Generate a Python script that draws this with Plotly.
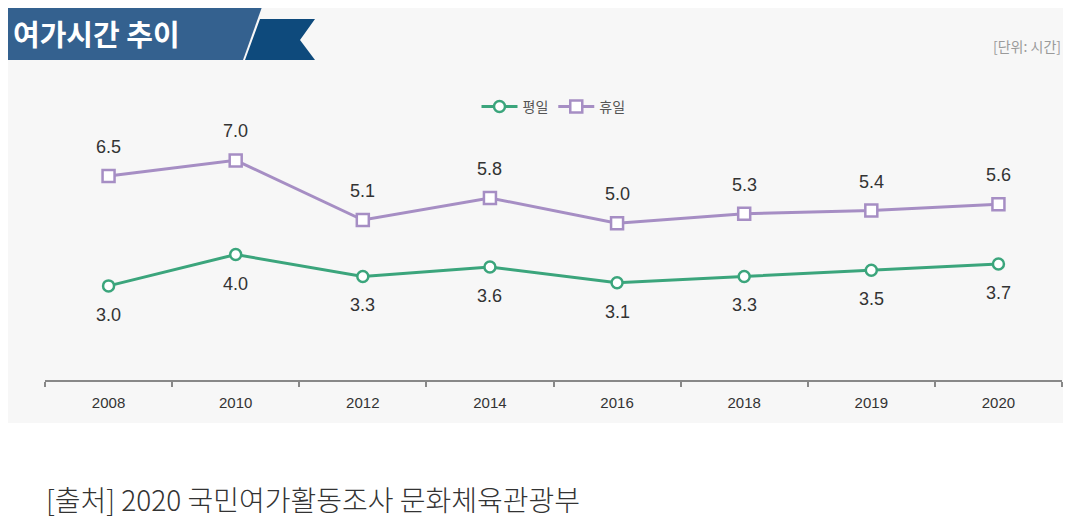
import plotly.graph_objects as go

years = ["2008", "2010", "2012", "2014", "2016", "2018", "2019", "2020"]
weekday = [3.0, 4.0, 3.3, 3.6, 3.1, 3.3, 3.5, 3.7]
weekend = [6.5, 7.0, 5.1, 5.8, 5.0, 5.3, 5.4, 5.6]

GREEN = "#3ba57c"
PURPLE = "#a68ec4"
LABEL_FONT = "Liberation Sans, Arial, sans-serif"
KR_FONT = "Noto Sans CJK KR, Noto Sans, sans-serif"

# the page body keeps its 8px margin, so work in window pixels and shift
OFF = 8
W, H = 1071 - OFF, 526 - OFF
X0, X1, Y0, Y1 = 45, 1062, 129, 380  # plot area in window pixels
L, R, T, B = X0 - OFF, W - (X1 - OFF), Y0 - OFF, H - (Y1 - OFF)
PW, PH = X1 - X0, Y1 - Y0


def px(x):
    return (x - X0) / PW


def py(y):
    return (Y1 - y) / PH


fig = go.Figure()
fig.add_trace(go.Scatter(
    x=years, y=weekday, name="평일", mode="lines+markers",
    line=dict(color=GREEN, width=3),
    marker=dict(symbol="circle", size=11, color="white", line=dict(color=GREEN, width=2.5)),
))
fig.add_trace(go.Scatter(
    x=years, y=weekend, name="휴일", mode="lines+markers",
    line=dict(color=PURPLE, width=3),
    marker=dict(symbol="square", size=12, color="white", line=dict(color=PURPLE, width=2.5)),
))

annotations = []
for i, v in enumerate(weekday):
    annotations.append(dict(x=i, y=v, text=f"{v:.1f}", showarrow=False, yshift=-29,
                            font=dict(size=18, color="#333333", family=LABEL_FONT)))
for i, v in enumerate(weekend):
    annotations.append(dict(x=i, y=v, text=f"{v:.1f}", showarrow=False, yshift=29,
                            font=dict(size=18, color="#333333", family=LABEL_FONT)))

annotations += [
    dict(xref="paper", yref="paper", x=px(11), y=py(33), xanchor="left", yanchor="middle",
         text="<b>여가시간 추이</b>", showarrow=False,
         font=dict(size=29, color="white", family=KR_FONT)),
    dict(xref="paper", yref="paper", x=px(1063), y=py(46), xanchor="right", yanchor="middle",
         text="[단위: 시간]", showarrow=False,
         font=dict(size=14, color="#9a9a9a", family=KR_FONT)),
    dict(xref="paper", yref="paper", x=px(44), y=py(499), xanchor="left", yanchor="middle",
         text="[출처] 2020 국민여가활동조사 문화체육관광부", showarrow=False,
         font=dict(size=28, color="#333333", family=KR_FONT, weight=300)),
]

shapes = [
    # light gray panel
    dict(type="rect", xref="paper", yref="paper", layer="below",
         x0=px(7), x1=px(1065), y0=py(423), y1=py(6),
         fillcolor="#f7f7f7", line=dict(width=0)),
    # title banner
    dict(type="path", xref="paper", yref="paper", layer="below",
         path=f"M {px(7)} {py(7)} L {px(262)} {py(7)} L {px(243)} {py(60)} L {px(7)} {py(60)} Z",
         fillcolor="#34618f", line=dict(width=0)),
    # ribbon
    dict(type="path", xref="paper", yref="paper", layer="below",
         path=(f"M {px(260)} {py(19)} L {px(315)} {py(19)} L {px(300)} {py(40)} "
               f"L {px(315)} {py(60)} L {px(245)} {py(60)} Z"),
         fillcolor="#0e4a7c", line=dict(width=0)),
]

fig.update_layout(
    width=W, height=H,
    margin=dict(l=L, r=R, t=T, b=B, pad=0),
    paper_bgcolor="white",
    plot_bgcolor="rgba(0,0,0,0)",
    showlegend=True,
    legend=dict(orientation="h", x=0.5, xanchor="center", y=py(107), yanchor="middle",
                bgcolor="rgba(0,0,0,0)", font=dict(size=14, color="#555555", family=KR_FONT),
                itemwidth=36),
    xaxis=dict(type="category", range=[-0.5, len(years) - 0.5], tickson="boundaries",
               ticks="outside", ticklen=5, tickcolor="#888888", tickwidth=1.5,
               showline=True, linecolor="#888888", linewidth=2, showgrid=False,
               zeroline=False, tickangle=0, ticklabelstandoff=8,
               tickfont=dict(size=15, color="#333333", family=LABEL_FONT)),
    yaxis=dict(range=[0, 8], visible=False, showgrid=False, zeroline=False),
    annotations=annotations,
    shapes=shapes,
)

fig.write_html("out.html")
